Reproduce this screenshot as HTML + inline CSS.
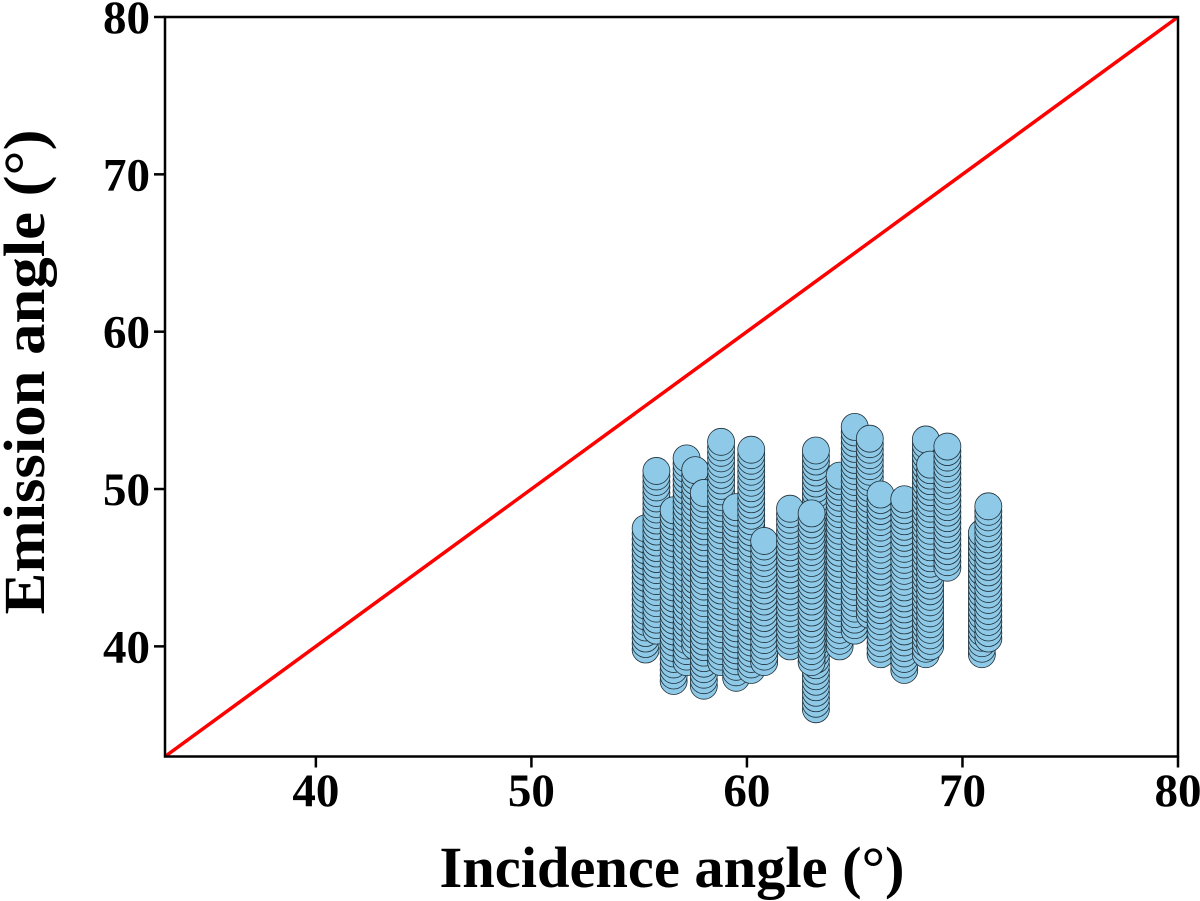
<!DOCTYPE html>
<html><head><meta charset="utf-8"><style>
html,body{margin:0;padding:0;background:#fff;}
svg{display:block;}
text{font-family:"Liberation Serif",serif;font-weight:bold;fill:#000;}
</style></head><body>
<svg id="chart" width="1200" height="901" viewBox="0 0 1200 901" xmlns="http://www.w3.org/2000/svg">
<g id="marks"></g>
<rect x="165" y="17" width="1013" height="739.5" fill="none" stroke="#000" stroke-width="2.5"/>
<g id="axes"></g>
<text x="672" y="887" font-size="58" text-anchor="middle" textLength="465" lengthAdjust="spacingAndGlyphs">Incidence angle (°)</text>
<text transform="translate(44,372) rotate(-90)" font-size="58" text-anchor="middle" textLength="485" lengthAdjust="spacingAndGlyphs">Emission angle (°)</text>
</svg>
<script>
const xTicks = [40, 50, 60, 70, 80];
const yTicks = [40, 50, 60, 70, 80];
const colX    = [55.3, 55.8, 56.6, 57.2, 57.6, 58.0, 58.8, 59.5, 60.2, 60.8, 62.0, 63.2, 63.0, 64.3, 65.0, 65.7, 66.2, 67.3, 68.3, 68.5, 69.3, 70.9, 71.2];
const colYmin = [39.8, 41.0, 37.8, 39.0, 40.0, 37.5, 39.0, 38.0, 38.5, 39.0, 40.0, 36.0, 39.0, 40.0, 41.0, 42.0, 39.5, 38.5, 39.5, 40.0, 45.0, 39.5, 40.5];
const colYmax = [47.6, 51.3, 48.8, 52.0, 51.5, 50.0, 53.3, 49.0, 52.5, 47.0, 49.0, 52.5, 48.5, 51.0, 54.0, 53.5, 49.8, 49.5, 53.3, 51.8, 53.0, 47.5, 49.0];
const refLine = [33, 80];

const X0=165, X1=1178, Y0=756.5, Y1=17, XMIN=33, XMAX=80, YMIN=33, YMAX=80;
const sx = v => X0 + (v-XMIN)/(XMAX-XMIN)*(X1-X0);
const sy = v => Y0 - (v-YMIN)/(YMAX-YMIN)*(Y0-Y1);
const NS="http://www.w3.org/2000/svg";
const marks=document.getElementById('marks'), axes=document.getElementById('axes');

colX.forEach((x,i)=>{
  const g=document.createElementNS(NS,'g');
  
  
  for(let y=colYmin[i]; y<=colYmax[i]+0.001; y+=0.35){
    const c=document.createElementNS(NS,'circle');
    
    
    c.setAttribute('cx',sx(x)); c.setAttribute('cy',sy(y)); c.setAttribute('r',13.5);
    c.setAttribute('fill','#8ecae8'); c.setAttribute('stroke','#1f2f38'); c.setAttribute('stroke-width','0.8');
    g.appendChild(c);
  }
  marks.appendChild(g);
});
const ln=document.createElementNS(NS,'line');


ln.setAttribute('x1',sx(refLine[0]));ln.setAttribute('y1',sy(refLine[0]));
ln.setAttribute('x2',sx(refLine[1]));ln.setAttribute('y2',sy(refLine[1]));
ln.setAttribute('stroke','#ff0000');ln.setAttribute('stroke-width','3.5');
marks.appendChild(ln);

xTicks.forEach(v=>{
  const t=document.createElementNS(NS,'line');
  
  
  t.setAttribute('x1',sx(v));t.setAttribute('x2',sx(v));t.setAttribute('y1',Y0);t.setAttribute('y2',Y0+11);
  t.setAttribute('stroke','#000');t.setAttribute('stroke-width','2.5');axes.appendChild(t);
  const l=document.createElementNS(NS,'text');
  
  
  l.setAttribute('x',sx(v));l.setAttribute('y',806);l.setAttribute('font-size','47');l.setAttribute('text-anchor','middle');
  l.textContent=v;axes.appendChild(l);
});
yTicks.forEach(v=>{
  const t=document.createElementNS(NS,'line');
  
  
  t.setAttribute('x1',X0-11);t.setAttribute('x2',X0);t.setAttribute('y1',sy(v));t.setAttribute('y2',sy(v));
  t.setAttribute('stroke','#000');t.setAttribute('stroke-width','2.5');axes.appendChild(t);
  const l=document.createElementNS(NS,'text');
  
  
  l.setAttribute('x',X0-15);l.setAttribute('y',sy(v)+16);l.setAttribute('font-size','47');l.setAttribute('text-anchor','end');
  l.textContent=v;axes.appendChild(l);
});
</script>
</body></html>
